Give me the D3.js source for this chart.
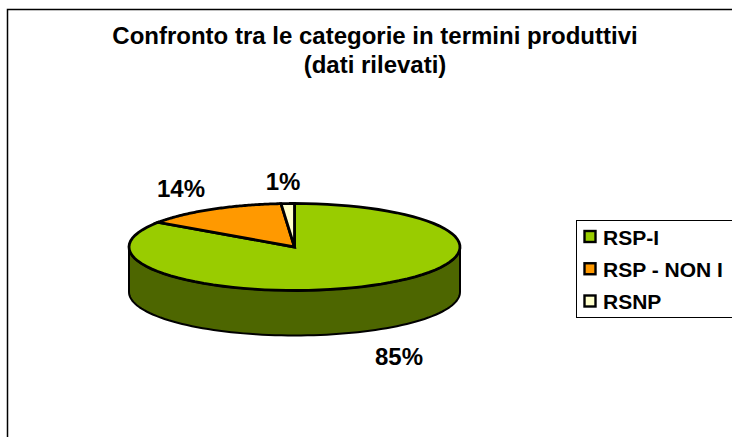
<!DOCTYPE html>
<html><head><meta charset="utf-8">
<style>html,body{margin:0;padding:0;background:#fff}svg{display:block}text{font-family:"Liberation Sans",Arial,sans-serif;font-weight:bold;fill:#000}</style>
<script src="https://cdn.jsdelivr.net/npm/d3@7/dist/d3.min.js"></script>
</head><body><script>
const categories = ["RSP-I", "RSP - NON I", "RSNP"];
const values = [84.6, 14.1, 1.3];
const labels = ["85%", "14%", "1%"];
const colors = ["#99cc00", "#ff9900", "#ffffcc"];
const sideColor = "#4d6600";
const titleLines = ["Confronto tra le categorie in termini produttivi", "(dati rilevati)"];

const W = 732, H = 437;
const svg = d3.select("body").append("svg").attr("width", W).attr("height", H);

// chart frame: only top and left edges are visible
svg.append("path").attr("d", `M7.5,${H}V9.5H${W}`).attr("fill", "none").attr("stroke", "#000").attr("stroke-width", 1.5);

svg.selectAll("text.title").data(titleLines).join("text").attr("class", "title")
  .attr("x", 375).attr("y", (d, i) => 44 + i * 28.5)
  .attr("text-anchor", "middle").attr("font-size", 24).text(d => d);

const cx = 294.5, cy = 247, rx = 165.5, ry = 43.5, depth = 45;
const px = a => cx + rx * Math.sin(a), py = a => cy - ry * Math.cos(a);
const ring = (a0, a1) => d3.range(0, 81).map(i => a0 + (a1 - a0) * i / 80);
const line = d3.line().x(d => d[0]).y(d => d[1]);
const top_ = ring(Math.PI / 2, 3 * Math.PI / 2);

// wall: visible front half of the cylinder
const wall = top_.map(a => [px(a), py(a)]).concat(top_.slice().reverse().map(a => [px(a), py(a) + depth]));
svg.append("path").attr("d", line(wall) + "Z").attr("fill", sideColor).attr("stroke", "#000").attr("stroke-width", 2).attr("stroke-linejoin", "round");

const arcs = d3.pie().sort(null)(values);
svg.selectAll("path.slice").data(arcs).join("path").attr("class", "slice")
  .attr("d", d => line([[cx, cy]].concat(ring(d.startAngle, d.endAngle).map(a => [px(a), py(a)]))) + "Z")
  .attr("fill", (d, i) => colors[i]).attr("stroke", "#000").attr("stroke-width", 2.8).attr("stroke-linejoin", "miter");

const labelPos = [[399, 356], [181, 188.5], [283, 181]];
svg.selectAll("text.lab").data(labels).join("text").attr("class", "lab")
  .attr("x", (d, i) => labelPos[i][0]).attr("y", (d, i) => labelPos[i][1])
  .attr("dy", "0.36em").attr("text-anchor", "middle").attr("font-size", 24).text(d => d);

// legend, running off the right edge
svg.append("rect").attr("x", 576.5).attr("y", 220.5).attr("width", 170).attr("height", 97)
  .attr("fill", "#fff").attr("stroke", "#000").attr("stroke-width", 1);
const ly = d3.scalePoint().domain(categories).range([237, 301.5]);
svg.selectAll("rect.sw").data(categories).join("rect").attr("class", "sw")
  .attr("x", 584.5).attr("y", d => ly(d) - 6).attr("width", 11).attr("height", 11)
  .attr("fill", (d, i) => colors[i]).attr("stroke", "#000").attr("stroke-width", 2.4);
svg.selectAll("text.leg").data(categories).join("text").attr("class", "leg")
  .attr("x", 603).attr("y", d => ly(d)).attr("dy", "0.36em").attr("font-size", 21).text(d => d);
</script></body></html>
